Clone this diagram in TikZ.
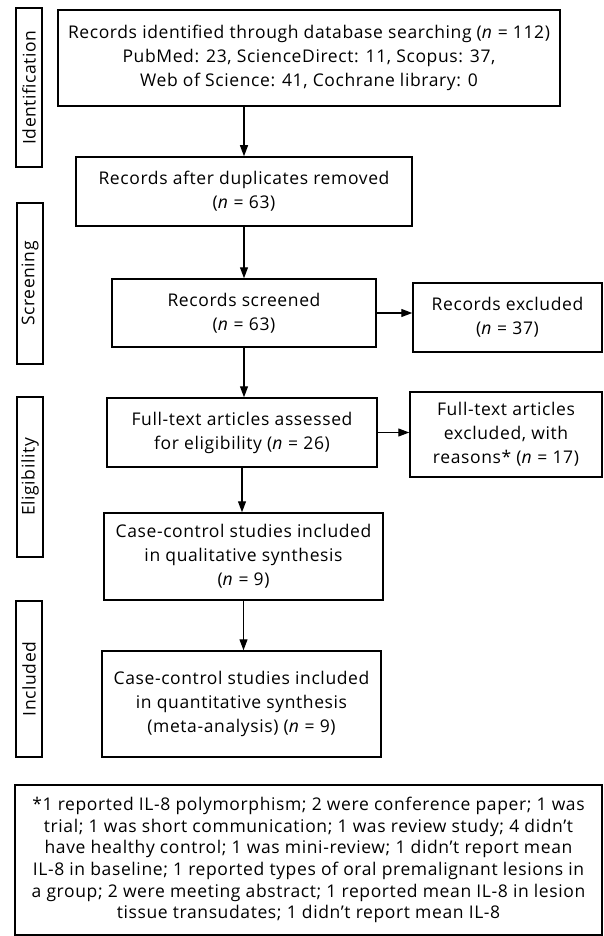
\documentclass[tikz,border=0pt]{standalone}
\usepackage{fontspec}
\setmainfont{Open Sans}
\newfontfamily\boxfont[LetterSpace=3.5]{Open Sans}
\usetikzlibrary{arrows.meta}
\begin{document}
\begin{tikzpicture}[x = 1pt, y = -1pt,
		box/.style = {draw, line width = 1.5pt, align = center, inner sep = 2pt,
			font = \boxfont\fontsize{17.5}{24}\selectfont},
		phase/.style = {draw, line width = 1.5pt, rotate = 90, inner sep = 0pt,
			minimum height = 26pt, font = \boxfont\fontsize{17.5}{24}\selectfont},
		arr/.style = {line width = 1.2pt, -{Triangle[length = 11pt, width = 8pt]}}]
	\useasboundingbox (0,0) rectangle (603,936);
	% phases on the left
	\node[phase, minimum width = 159pt] (ident) at (29,87.5) {Identification};
	\node[phase, minimum width = 161pt] (screen) at (30,283.5) {Screening};
	\node[phase, minimum width = 160pt] (elig) at (30,477) {Eligibility};
	\node[phase, minimum width = 156pt] (incl) at (29,679) {Included};
	% flow boxes
	\node[box, minimum width = 502pt, minimum height = 96pt] (records) at (309,58)
		{Records identified through database searching (\textit{n} = 112)\\
		PubMed: 23, ScienceDirect: 11, Scopus: 37,\\
		Web of Science: 41, Cochrane library: 0};
	\node[box, minimum width = 336pt, minimum height = 69pt] (dedup) at (244,191.5)
		{Records after duplicates removed\\(\textit{n} = 63)};
	\node[box, minimum width = 264pt, minimum height = 68pt] (screened) at (244,313)
		{Records screened\\(\textit{n} = 63)};
	\node[box, minimum width = 189pt, minimum height = 69pt] (excluded) at (507.5,317.5)
		{Records excluded\\(\textit{n} = 37)};
	\node[box, minimum width = 270pt, minimum height = 69pt] (fulltext) at (242,432.5)
		{Full-text articles assessed\\for eligibility (\textit{n} = 26)};
	\node[box, minimum width = 192pt, minimum height = 85pt] (ftexcl) at (506,434.5)
		{Full-text articles\\excluded, with\\reasons* (\textit{n} = 17)};
	\node[box, minimum width = 279pt, minimum height = 87pt] (qual) at (243.5,556.5)
		{Case-control studies included\\in qualitative synthesis\\(\textit{n} = 9)};
	\node[box, minimum width = 279pt, minimum height = 106pt] (quant) at (241.5,704)
		{Case-control studies included\\in quantitative synthesis\\(meta-analysis) (\textit{n} = 9)};
	% footnote
	\node[box, minimum width = 587pt, minimum height = 150pt,
		font = \boxfont\fontsize{17.5}{21.7}\selectfont] (note) at (308.5,860)
		{*1 reported IL-8 polymorphism; 2 were conference paper; 1 was\\
		trial; 1 was short communication; 1 was review study; 4 didn’t\\
		have healthy control; 1 was mini-review; 1 didn’t report mean\\
		IL-8 in baseline; 1 reported types of oral premalignant lesions in\\
		a group; 2 were meeting abstract; 1 reported mean IL-8 in lesion\\
		tissue transudates; 1 didn’t report mean IL-8};
	% arrows
	\draw[arr] (records.south -| dedup.north) -- (dedup.north);
	\draw[arr] (dedup.south) -- (screened.north);
	\draw[arr] (screened.south) -- (screened.south |- fulltext.north);
	\draw[arr] (screened.east) -- (screened.east -| excluded.west);
	\draw[arr] (fulltext.east) -- (fulltext.east -| ftexcl.west);
	\draw[arr] (fulltext.south) -- (fulltext.south |- qual.north);
	\draw[arr] (qual.south) -- (qual.south |- quant.north);
\end{tikzpicture}
\end{document}
